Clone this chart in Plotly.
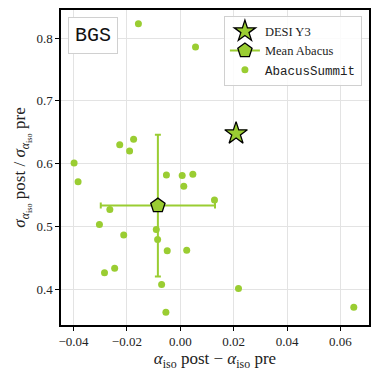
import plotly.graph_objects as go

# AbacusSummit mocks
abacus_dx = [-0.0398, -0.0383, -0.0227, -0.0175, -0.0190, -0.0052, 0.0007, 0.0047,
             0.0013, 0.0128, -0.0264, -0.0303, -0.0212, -0.0090, -0.0085, -0.0049,
             0.0024, -0.0284, -0.0246, -0.0070, 0.0218, -0.0054, 0.0650, -0.0157, 0.0057]
abacus_ratio = [0.601, 0.571, 0.630, 0.639, 0.620, 0.582, 0.581, 0.583,
                0.564, 0.542, 0.527, 0.503, 0.486, 0.495, 0.479, 0.461,
                0.462, 0.426, 0.433, 0.407, 0.401, 0.363, 0.371, 0.823, 0.786]

mean_dx, mean_dx_err = -0.0084, 0.0214
mean_ratio, mean_ratio_err = 0.533, 0.113

desi_dx, desi_ratio = 0.0209, 0.648

GREEN = '#9acd32'
SERIF = 'Liberation Serif, DejaVu Serif, serif'
MONO = 'Liberation Mono, DejaVu Sans Mono, monospace'

fig = go.Figure()

fig.add_trace(go.Scatter(
    x=abacus_dx, y=abacus_ratio, mode='markers',
    name=f'<span style="font-family:{MONO}">AbacusSummit</span>',
    marker=dict(size=7, color=GREEN)
))

fig.add_trace(go.Scatter(
    x=[mean_dx], y=[mean_ratio], mode='lines+markers', name='Mean Abacus',
    line=dict(color=GREEN, width=2),
    marker=dict(symbol='pentagon', size=15, color=GREEN, line=dict(color='black', width=1.3)),
    error_x=dict(type='constant', value=mean_dx_err, color=GREEN, thickness=2, width=3),
    error_y=dict(type='constant', value=mean_ratio_err, color=GREEN, thickness=2, width=3),
))

fig.add_trace(go.Scatter(
    x=[desi_dx], y=[desi_ratio], mode='markers', name='DESI Y3',
    marker=dict(symbol='star', size=17, color=GREEN, line=dict(color='black', width=1.3))
))

axis_common = dict(
    showline=True, linecolor='black', linewidth=1.5, mirror=True,
    ticks='outside', ticklen=4, tickcolor='black',
    showgrid=True, gridcolor='#e3e3e3', gridwidth=1, zeroline=False,
    tickfont=dict(family=SERIF, size=13, color='#222'),
    automargin=False,
)

# the page body adds an 8px offset, so the figure is 8px smaller than the window
fig.update_layout(
    width=371, height=371,
    margin=dict(l=53, r=10, t=2, b=54),
    plot_bgcolor='white', paper_bgcolor='white',
    font=dict(family=SERIF, color='#222'),
    xaxis=dict(range=[-0.0447, 0.0707], tickvals=[-0.04, -0.02, 0.0, 0.02, 0.04, 0.06],
               ticktext=['−0.04', '−0.02', '0.00', '0.02', '0.04', '0.06'],
               title=dict(text='<i>α</i><sub>iso</sub> post − <i>α</i><sub>iso</sub> pre',
                          font=dict(size=17), standoff=4),
               **axis_common),
    yaxis=dict(range=[0.3426, 0.845], tickvals=[0.4, 0.5, 0.6, 0.7, 0.8],
               tickformat='.1f',
               title=dict(text='<i>σ</i><sub><i>α</i><sub>iso</sub></sub> post / <i>σ</i><sub><i>α</i><sub>iso</sub></sub> pre',
                          font=dict(size=17), standoff=6),
               **axis_common),
    legend=dict(
        x=0.977, y=0.982, xanchor='right', yanchor='top',
        bgcolor='rgba(255,255,255,0.85)', bordercolor='#d0d0d0', borderwidth=1,
        font=dict(family=SERIF, size=12.5, color='#222'),
        traceorder='reversed', tracegroupgap=0,
    ),
    annotations=[dict(
        text='BGS', xref='paper', yref='paper', x=0.024, y=0.977,
        xanchor='left', yanchor='top', showarrow=False,
        font=dict(family=MONO, size=20, color='#111'),
        bgcolor='white', bordercolor='#d0d0d0', borderwidth=1, borderpad=6,
    )],
)

fig.write_html("out.html")
